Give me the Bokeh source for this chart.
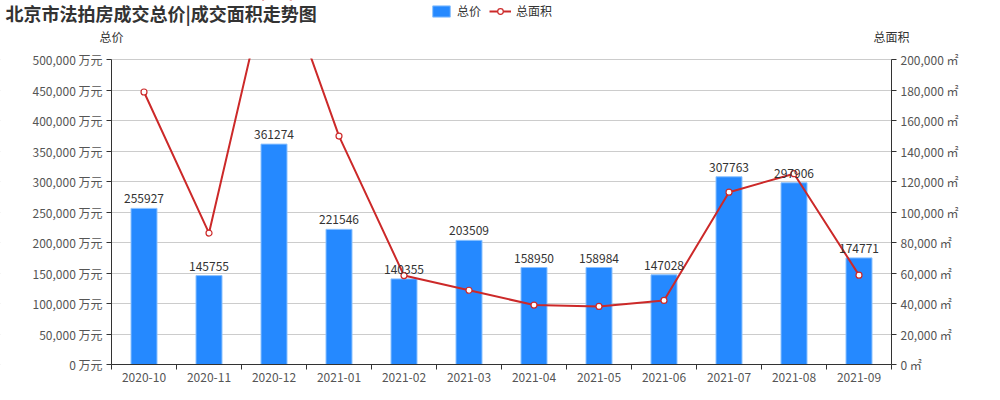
from bokeh.plotting import figure
from bokeh.models import (ColumnDataSource, LinearAxis, Range1d, FixedTicker, BoxAnnotation,
                          CustomJSTickFormatter, LabelSet, Label, Legend, LegendItem)
from bokeh.embed import file_html
from bokeh.resources import INLINE
from bokeh.core.properties import value

months = ["2020-10", "2020-11", "2020-12", "2021-01", "2021-02", "2021-03",
          "2021-04", "2021-05", "2021-06", "2021-07", "2021-08", "2021-09"]
total_price = [255927, 145755, 361274, 221546, 140355, 203509,
               158950, 158984, 147028, 307763, 297906, 174771]
total_area = [178700, 86200, 269500, 149800, 58300, 48700,
              39000, 38100, 42000, 113000, 125100, 58600]
price_ticks = [0, 50000, 100000, 150000, 200000, 250000,
               300000, 350000, 400000, 450000, 500000]
area_ticks = [0, 20000, 40000, 60000, 80000, 100000,
              120000, 140000, 160000, 180000, 200000]
axis_names = ["总价", "总面积"]
chart_title = "北京市法拍房成交总价|成交面积走势图"

FONT = "Noto Sans CJK SC"
BAR_FILL = "#2589ff"
BAR_LINE = "#8cc2ff"
LINE_COLOR = "#cc2929"

# canvas / plot-area geometry (pixels)
W, H = 984, 384
PX_LEFT, PX_RIGHT, PX_TOP, PX_BOTTOM = 111, 891, 59, 364

n = len(months)
pmax, amax = price_ticks[-1], area_ticks[-1]
ux = n / (PX_RIGHT - PX_LEFT)
uyp = pmax / (PX_BOTTOM - PX_TOP)
uya = amax / (PX_BOTTOM - PX_TOP)

xs = [i + 0.5 for i in range(n)]
src = ColumnDataSource(dict(x=xs, price=total_price, area=total_area,
                            plabel=[str(v) for v in total_price]))

p = figure(width=W, height=H,
           x_range=Range1d(-PX_LEFT * ux, n + (W - PX_RIGHT) * ux),
           y_range=Range1d(-(H - PX_BOTTOM) * uyp, pmax + PX_TOP * uyp),
           output_backend="svg", toolbar_location=None, title_location=None,
           min_border_left=0, min_border_right=0, min_border_top=0, min_border_bottom=0)
p.outline_line_color = None
p.extra_y_ranges = {"area": Range1d(-(H - PX_BOTTOM) * uya, amax + PX_TOP * uya)}

# left axis
ya = p.yaxis[0]
ya.fixed_location = 0
ya.bounds = (0, pmax)
ya.ticker = FixedTicker(ticks=price_ticks)
ya.formatter = CustomJSTickFormatter(code="return tick.toLocaleString('en-US') + ' 万元';")
ya.axis_line_color = "#333333"
ya.major_tick_line_color = "#333333"
ya.major_tick_out = 5
ya.major_tick_in = 0
ya.minor_tick_line_color = None
ya.major_label_text_font = FONT
ya.major_label_text_font_size = "12px"
ya.major_label_text_color = "#555555"
ya.major_label_standoff = 4

# right axis
ra = LinearAxis(y_range_name="area", fixed_location=n, bounds=(0, amax),
                ticker=FixedTicker(ticks=area_ticks),
                formatter=CustomJSTickFormatter(code="return tick.toLocaleString('en-US') + ' ㎡';"))
ra.axis_line_color = "#333333"
ra.major_tick_line_color = "#333333"
ra.major_tick_out = 5
ra.major_tick_in = 0
ra.minor_tick_line_color = None
ra.major_label_text_font = FONT
ra.major_label_text_font_size = "12px"
ra.major_label_text_color = "#555555"
ra.major_label_standoff = 4
p.add_layout(ra, "right")

# bottom category axis
xa = p.xaxis[0]
xa.fixed_location = 0
xa.bounds = (0, n)
xa.ticker = FixedTicker(ticks=xs, minor_ticks=list(range(n + 1)))
xa.major_label_overrides = {x: m for x, m in zip(xs, months)}
xa.axis_line_color = "#333333"
xa.major_tick_line_color = None
xa.minor_tick_line_color = "#333333"
xa.minor_tick_out = 5
xa.minor_tick_in = 0
xa.major_label_text_font = FONT
xa.major_label_text_font_size = "12px"
xa.major_label_text_color = "#555555"
xa.major_label_standoff = 2

p.xgrid.visible = False
p.ygrid.ticker = FixedTicker(ticks=price_ticks)
p.ygrid.grid_line_color = "#cccccc"
# keep the horizontal grid inside the plot area
p.add_layout(BoxAnnotation(right=0, fill_color="white", fill_alpha=1,
                           line_color=None, level="underlay"))
p.add_layout(BoxAnnotation(left=n, fill_color="white", fill_alpha=1,
                           line_color=None, level="underlay"))

r_bar = p.vbar(x="x", top="price", width=0.4, source=src,
               fill_color=BAR_FILL, line_color=BAR_LINE, line_width=1)
r_line = p.line("x", "area", source=src, y_range_name="area",
                line_color=LINE_COLOR, line_width=2)
r_pts = p.scatter("x", "area", source=src, y_range_name="area", marker="circle",
                  size=6, fill_color="white", line_color=LINE_COLOR, line_width=1.2)

# clip the line at the top of the plot area
p.add_layout(BoxAnnotation(bottom=H - PX_TOP + 1, bottom_units="screen", left=0, right=n,
                           fill_color="white", fill_alpha=1, line_color=None))

p.add_layout(LabelSet(x="x", y="price", text="plabel", source=src, y_offset=5,
                      text_align="center", text_baseline="bottom",
                      text_font=value(FONT), text_font_size="12px", text_color="#333333"))

legend = Legend(items=[LegendItem(label="总价", renderers=[r_bar]),
                       LegendItem(label="总面积", renderers=[r_line, r_pts])],
                orientation="horizontal", location=(430, H - 19),
                border_line_color=None, background_fill_alpha=0,
                padding=0, margin=0, spacing=8, glyph_width=22, glyph_height=14,
                label_height=14, label_standoff=5, label_text_font=FONT,
                label_text_font_size="12px", label_text_color="#333333")
p.add_layout(legend)

p.add_layout(Label(x=5, y=H - 12, x_units="screen", y_units="screen",
                   text=chart_title, text_baseline="middle",
                   text_font=FONT, text_font_size="18px", text_font_style="bold",
                   text_color="#333333"))
p.add_layout(Label(x=0, y=H - 36, x_units="data", y_units="screen", text=axis_names[0],
                   text_align="center", text_baseline="middle", text_font=FONT,
                   text_font_size="12px", text_color="#333333"))
p.add_layout(Label(x=n, y=H - 36, x_units="data", y_units="screen", text=axis_names[1],
                   text_align="center", text_baseline="middle", text_font=FONT,
                   text_font_size="12px", text_color="#333333"))

open("out.html", "w").write(file_html(p, INLINE))
